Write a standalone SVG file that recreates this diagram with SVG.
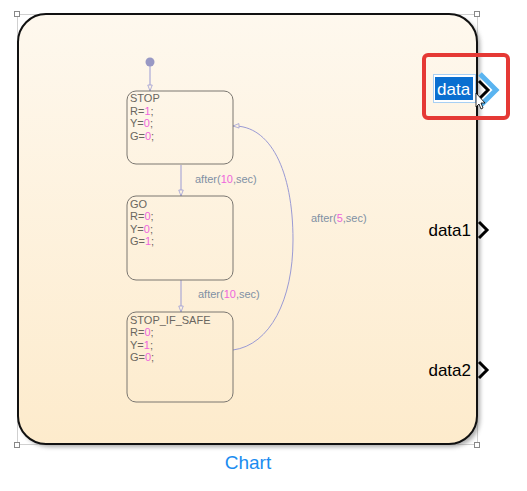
<svg xmlns="http://www.w3.org/2000/svg" width="527" height="491" viewBox="0 0 527 491">
<defs>
<linearGradient id="bg" x1="0" y1="0" x2="0" y2="1">
<stop offset="0" stop-color="#fef8ee"/>
<stop offset="1" stop-color="#fdebcc"/>
</linearGradient>
<filter id="sh" x="-5%" y="-5%" width="110%" height="110%">
<feGaussianBlur stdDeviation="2"/>
</filter>
<marker id="ah" viewBox="0 0 10 8" refX="9" refY="4" markerWidth="8" markerHeight="6" orient="auto" markerUnits="userSpaceOnUse">
<path d="M1,1 L9,4 L1,7 Z" fill="#fdf3e0" stroke="#9a9ad4" stroke-width="1"/>
</marker>
</defs>
<style>
.st{fill:none;stroke:#7a7670;stroke-width:1}
.sn{font-family:"Liberation Sans",Arial,sans-serif;font-size:11px;fill:#6a6660}
.num{fill:#ee66dd}
.tl{font-family:"Liberation Sans",Arial,sans-serif;font-size:11px;fill:#8090a4}
.tr{fill:none;stroke:#9a9ad4;stroke-width:1}
.port{font-family:"Liberation Sans",Arial,sans-serif;font-size:17px;fill:#000}
.chev{fill:none;stroke:#000;stroke-width:3}
.hd{fill:#fff;stroke:#888;stroke-width:1}
</style>
<rect width="527" height="491" fill="#fff"/>

<g id="chart">
<rect x="17.5" y="14.5" width="460" height="430" fill="none" stroke="#d0d0d0" stroke-width="1"/>
<rect x="21" y="17" width="459" height="430" rx="28" fill="#666" opacity="0.55" filter="url(#sh)"/>
<rect x="18" y="14" width="459" height="430" rx="28" fill="url(#bg)" stroke="#111" stroke-width="2"/>
<rect x="14.5" y="11.5" width="5" height="5" class="hd"/>
<rect x="474.5" y="11.5" width="5" height="5" class="hd"/>
<rect x="14.5" y="442.5" width="5" height="5" class="hd"/>
<rect x="474.5" y="442.5" width="5" height="5" class="hd"/>
<text x="248" y="469" text-anchor="middle" font-family="Liberation Sans, Arial, sans-serif" font-size="19" fill="#1a8cf0">Chart</text>
</g>

<g id="connectors">
<circle cx="150" cy="62" r="4.5" fill="#9898c4"/>
<line x1="150" y1="66" x2="150" y2="91" class="tr" marker-end="url(#ah)"/>
<line x1="181" y1="165" x2="181" y2="196" class="tr" marker-end="url(#ah)"/>
<text x="195" y="183" class="tl">after(<tspan class="num">10</tspan>,sec)</text>
<line x1="181" y1="280" x2="181" y2="312" class="tr" marker-end="url(#ah)"/>
<text x="198" y="298" class="tl">after(<tspan class="num">10</tspan>,sec)</text>
<path d="M233,350 C270,345 293,300 293,240 C293,170 270,125 233,126" class="tr" marker-end="url(#ah)"/>
<text x="311" y="222" class="tl">after(<tspan class="num">5</tspan>,sec)</text>
</g>

<g id="stop">
<rect x="127" y="91" width="106" height="73" rx="9" class="st"/>
<text class="sn" x="130" y="102">STOP</text>
<text class="sn" x="130" y="114.5">R=<tspan class="num">1</tspan>;</text>
<text class="sn" x="130" y="127">Y=<tspan class="num">0</tspan>;</text>
<text class="sn" x="130" y="139.5">G=<tspan class="num">0</tspan>;</text>
</g>

<g id="go">
<rect x="127" y="196" width="106" height="84" rx="9" class="st"/>
<text class="sn" x="130" y="207.5">GO</text>
<text class="sn" x="130" y="220">R=<tspan class="num">0</tspan>;</text>
<text class="sn" x="130" y="232.5">Y=<tspan class="num">0</tspan>;</text>
<text class="sn" x="130" y="245">G=<tspan class="num">1</tspan>;</text>
</g>

<g id="stop_if_safe">
<rect x="127" y="312" width="106" height="90" rx="9" class="st"/>
<text class="sn" x="130" y="323.5">STOP_IF_SAFE</text>
<text class="sn" x="130" y="336">R=<tspan class="num">0</tspan>;</text>
<text class="sn" x="130" y="348.5">Y=<tspan class="num">1</tspan>;</text>
<text class="sn" x="130" y="361">G=<tspan class="num">0</tspan>;</text>
</g>

<g id="port_data">
<path d="M480,74 L496,90 L480,106" fill="none" stroke="#5ab4f0" stroke-width="5"/>
<path d="M479,81 L488,90 L479,99" class="chev"/>
<rect x="433.5" y="74.5" width="42" height="28" fill="#fff" stroke="#a8d0f4" stroke-width="1"/>
<rect x="435" y="77" width="38" height="23" fill="#0a6fd0"/>
<text x="437" y="95" class="port" fill="#fff" style="fill:#fff">data</text>
<path d="M476,93 L476,107 L479,104 L481,109 L483,108 L481,103 L485,103 Z" fill="#fff" stroke="#000" stroke-width="0.8"/>
<rect x="424" y="55" width="84" height="63" rx="4" fill="none" stroke="#e53935" stroke-width="4"/>
</g>

<g id="port_data1">
<text x="471" y="236" text-anchor="end" class="port">data1</text>
<path d="M479,222 L487,230 L479,238" class="chev"/>
</g>

<g id="port_data2">
<text x="471" y="376" text-anchor="end" class="port">data2</text>
<path d="M479,362 L487,370 L479,378" class="chev"/>
</g>
</svg>
